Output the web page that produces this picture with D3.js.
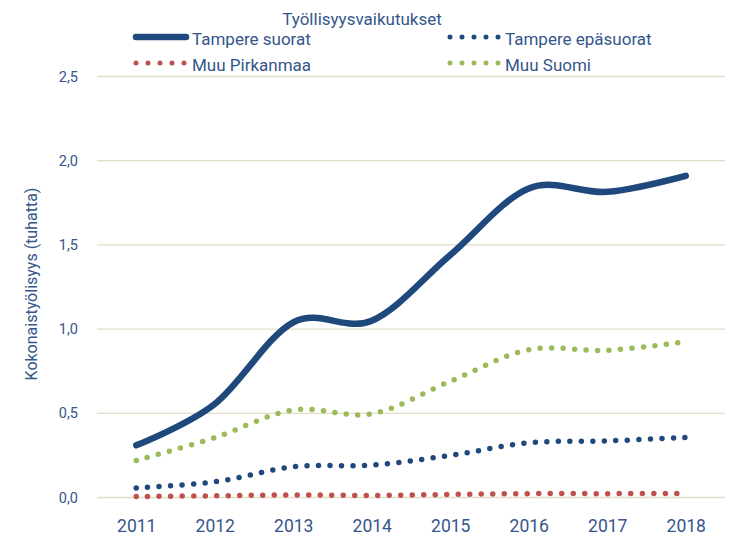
<!DOCTYPE html>
<html>
<head>
<meta charset="utf-8">
<script src="https://cdn.jsdelivr.net/npm/d3@7"></script>
<style>
  html, body { margin: 0; padding: 0; background: #fff; }
  svg { display: block; font-family: Roboto, "Open Sans", sans-serif; }
</style>
</head>
<body>
<script>
// ---- Data ----
const years = [2011, 2012, 2013, 2014, 2015, 2016, 2017, 2018];
const tampereSuorat    = [0.31, 0.555, 1.04, 1.05, 1.44, 1.835, 1.815, 1.91];
const tampereEpasuorat = [0.057, 0.093, 0.182, 0.193, 0.25, 0.325, 0.336, 0.357];
const muuPirkanmaa     = [0.006, 0.010, 0.015, 0.012, 0.018, 0.023, 0.023, 0.024];
const muuSuomi         = [0.22, 0.355, 0.52, 0.497, 0.69, 0.877, 0.874, 0.925];
const yTicks = [0, 0.5, 1.0, 1.5, 2.0, 2.5];
const seriesNames = ["Tampere suorat", "Tampere epäsuorat", "Muu Pirkanmaa", "Muu Suomi"];
const legendTitle = "Työllisyysvaikutukset";
const yAxisTitle = "Kokonaistyölisyys (tuhatta)";

const W = 731, H = 542;
const plot = { left: 97, right: 725, top: 76.5, bottom: 497.5 };
const textColor = "#34568a";
const gridColor = "#e3dcc6";

const series = [
  { name: seriesNames[0], values: tampereSuorat,    color: "#1f497d", dotted: false },
  { name: seriesNames[1], values: tampereEpasuorat, color: "#1f497d", dotted: true },
  { name: seriesNames[2], values: muuPirkanmaa,     color: "#c0504d", dotted: true },
  { name: seriesNames[3], values: muuSuomi,         color: "#9bbb59", dotted: true }
];

const svg = d3.select("body").append("svg").attr("width", W).attr("height", H);

const x = d3.scalePoint().domain(years).range([plot.left, plot.right]).padding(0.5);
const y = d3.scaleLinear().domain([0, 2.5]).range([plot.bottom, plot.top]);

// gridlines
svg.append("g").selectAll("line").data(yTicks).join("line")
  .attr("x1", plot.left).attr("x2", plot.right)
  .attr("y1", d => y(d)).attr("y2", d => y(d))
  .attr("stroke", gridColor).attr("stroke-width", 1.3);

// y axis labels
const yAxis = d3.axisLeft(y).tickValues(yTicks).tickSize(0).tickPadding(0)
  .tickFormat(d => d3.format(".1f")(d).replace(".", ","));
const gy = svg.append("g").attr("transform", `translate(${78},0)`).call(yAxis);
gy.select(".domain").remove();
gy.selectAll("text").attr("fill", textColor).attr("font-size", 14.5)
  .attr("font-family", "Roboto, sans-serif");

// x axis labels
const xAxis = d3.axisBottom(x).tickSize(0).tickPadding(0);
const gx = svg.append("g").attr("transform", `translate(0,${520})`).call(xAxis);
gx.select(".domain").remove();
gx.selectAll("text").attr("fill", textColor).attr("font-size", 17.5)
  .attr("font-family", "Roboto, sans-serif");

// y axis title
svg.append("text")
  .attr("transform", `translate(37,${284}) rotate(-90)`)
  .attr("text-anchor", "middle")
  .attr("fill", textColor).attr("font-size", 16)
  .text(yAxisTitle);

// lines
const line = d3.line()
  .x((d, i) => x(years[i]))
  .y(d => y(d))
  .curve(d3.curveCardinal.tension(0));

// draw order: dotted first, solid on top
const drawOrder = [series[2], series[1], series[3], series[0]];
svg.append("g").selectAll("path").data(drawOrder).join("path")
  .attr("d", d => line(d.values))
  .attr("fill", "none")
  .attr("stroke", d => d.color)
  .attr("stroke-linecap", "round")
  .attr("stroke-linejoin", "round")
  .attr("stroke-width", d => d.dotted ? 5.5 : 6.5)
  .attr("stroke-dasharray", d => d.dotted ? "0 11.5" : null);

// legend
svg.append("text")
  .attr("x", 362).attr("y", 24.5)
  .attr("text-anchor", "middle")
  .attr("fill", textColor).attr("font-size", 17)
  .text(legendTitle);

const legendPos = [
  { sx: 135, tx: 192, y: 37 },
  { sx: 450, tx: 505, y: 37 },
  { sx: 136, tx: 192, y: 63 },
  { sx: 450, tx: 505, y: 63 }
];
series.forEach((s, i) => {
  const p = legendPos[i];
  const g = svg.append("g");
  if (s.dotted) {
    g.append("line")
      .attr("x1", p.sx).attr("x2", p.sx + 48.5)
      .attr("y1", p.y).attr("y2", p.y)
      .attr("stroke", s.color).attr("stroke-width", 5)
      .attr("stroke-linecap", "round")
      .attr("stroke-dasharray", "0 12");
  } else {
    g.append("line")
      .attr("x1", p.sx + 1).attr("x2", p.sx + 51)
      .attr("y1", p.y).attr("y2", p.y)
      .attr("stroke", s.color).attr("stroke-width", 6.5)
      .attr("stroke-linecap", "round");
  }
  g.append("text")
    .attr("x", p.tx).attr("y", p.y + 8)
    .attr("fill", textColor).attr("font-size", 17)
    .text(s.name);
});
</script>
</body>
</html>
